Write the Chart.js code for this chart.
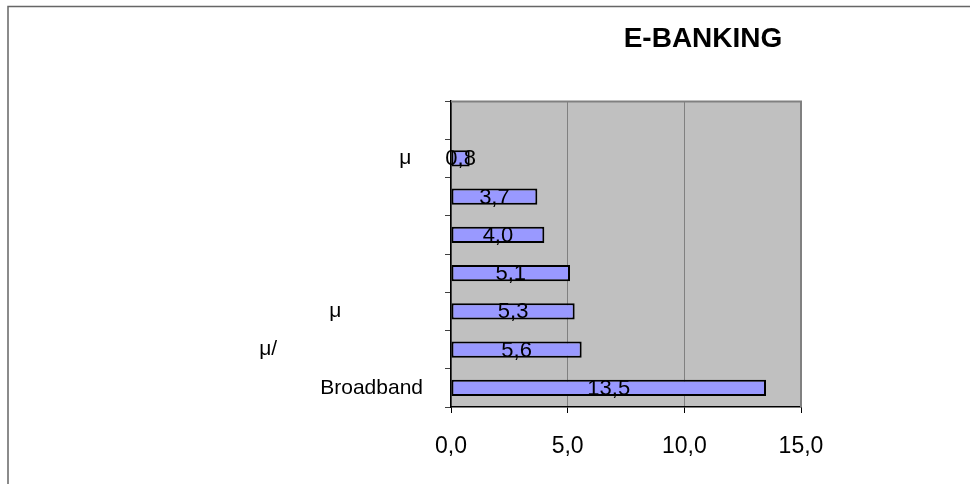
<!DOCTYPE html>
<html>
<head>
<meta charset="utf-8">
<script src="https://cdn.jsdelivr.net/npm/chart.js@4.4.1/dist/chart.umd.min.js"></script>
<style>
  body { margin: 0; background: #fff; }
  #wrap { width: 970px; height: 484px; }
</style>
</head>
<body>
<div id="wrap"><canvas id="ebankChart" width="970" height="484"></canvas></div>
<script>
const chartTitle = 'E-BANKING';
const categories = ['', 'μ', '', '', '', 'μ', 'μ/', 'Broadband'];
const values = [null, 0.8, 3.7, 4.0, 5.1, 5.3, 5.6, 13.5];
const xTicks = [0, 5, 10, 15];
// trailing blanks stand in for the lost glyphs of the category names
const labelPad = [0, 2, 0, 0, 0, 14, 25, 0];

const FONT = '"Liberation Sans", Arial, sans-serif';
const comma = v => v.toFixed(1).replace('.', ',');

const sheetPlugin = {
    id: 'sheet',
    beforeDraw(chart) {
        const { ctx, chartArea: a } = chart;
        ctx.save();
        ctx.fillStyle = '#c0c0c0';
        ctx.fillRect(a.left, a.top, a.right - a.left, a.bottom - a.top);
        // outer frame, only its top and left edges fall inside the picture
        ctx.strokeStyle = '#666';
        ctx.lineWidth = 1.5;
        ctx.beginPath();
        ctx.moveTo(8, chart.height);
        ctx.lineTo(8, 6.5);
        ctx.lineTo(chart.width, 6.5);
        ctx.stroke();
        ctx.restore();
    },
    afterDatasetsDraw(chart) {
        const { ctx } = chart;
        const meta = chart.getDatasetMeta(0);
        ctx.save();
        ctx.font = '22px ' + FONT;
        ctx.fillStyle = '#000';
        ctx.textAlign = 'center';
        ctx.textBaseline = 'middle';
        meta.data.forEach((bar, i) => {
            if (values[i] == null) return;
            ctx.fillText(comma(values[i]), (bar.x + bar.base) / 2, bar.y + 1);
        });
        ctx.restore();
    },
    afterDraw(chart) {
        const { ctx, chartArea: a } = chart;
        ctx.save();
        ctx.strokeStyle = '#808080';
        ctx.lineWidth = 2;
        ctx.beginPath();
        ctx.moveTo(a.left, a.top + 0.5);
        ctx.lineTo(a.right, a.top + 0.5);
        ctx.lineTo(a.right, a.bottom);
        ctx.stroke();

        ctx.font = 'bold 28px ' + FONT;
        ctx.fillStyle = '#000';
        ctx.textAlign = 'center';
        ctx.textBaseline = 'alphabetic';
        ctx.fillText(chartTitle, 703, 47);
        ctx.restore();
    }
};

new Chart(document.getElementById('ebankChart').getContext('2d'), {
    type: 'bar',
    data: {
        labels: categories,
        datasets: [{
            data: values,
            backgroundColor: '#9999ff',
            borderColor: '#000',
            borderWidth: 2,
            borderSkipped: false,
            barPercentage: 0.42,
            categoryPercentage: 1
        }]
    },
    options: {
        indexAxis: 'y',
        responsive: false,
        animation: false,
        devicePixelRatio: 1,
        layout: { padding: { left: 0, top: 101, right: 169, bottom: 0 } },
        plugins: {
            legend: { display: false },
            tooltip: { enabled: false },
            title: { display: false }
        },
        scales: {
            x: {
                min: xTicks[0],
                max: xTicks[xTicks.length - 1],
                ticks: {
                    stepSize: xTicks[1] - xTicks[0],
                    callback: v => comma(v),
                    font: { size: 23, family: FONT },
                    color: '#000',
                    padding: 20,
                    maxRotation: 0
                },
                grid: { color: '#808080', tickColor: '#000', tickLength: 6, lineWidth: 1 },
                border: { color: '#000', width: 1.5 },
                afterFit: s => { s.height = 77; }
            },
            y: {
                ticks: {
                    autoSkip: false,
                    font: { size: 21, family: FONT },
                    color: '#000',
                    padding: 22,
                    callback: (v, i) => categories[i] + ' '.repeat(labelPad[i])
                },
                grid: { drawOnChartArea: false, color: '#404040', tickLength: 6 },
                border: { color: '#000', width: 1.5 },
                afterFit: s => { s.width = 451; }
            }
        }
    },
    plugins: [sheetPlugin]
});
</script>
</body>
</html>
